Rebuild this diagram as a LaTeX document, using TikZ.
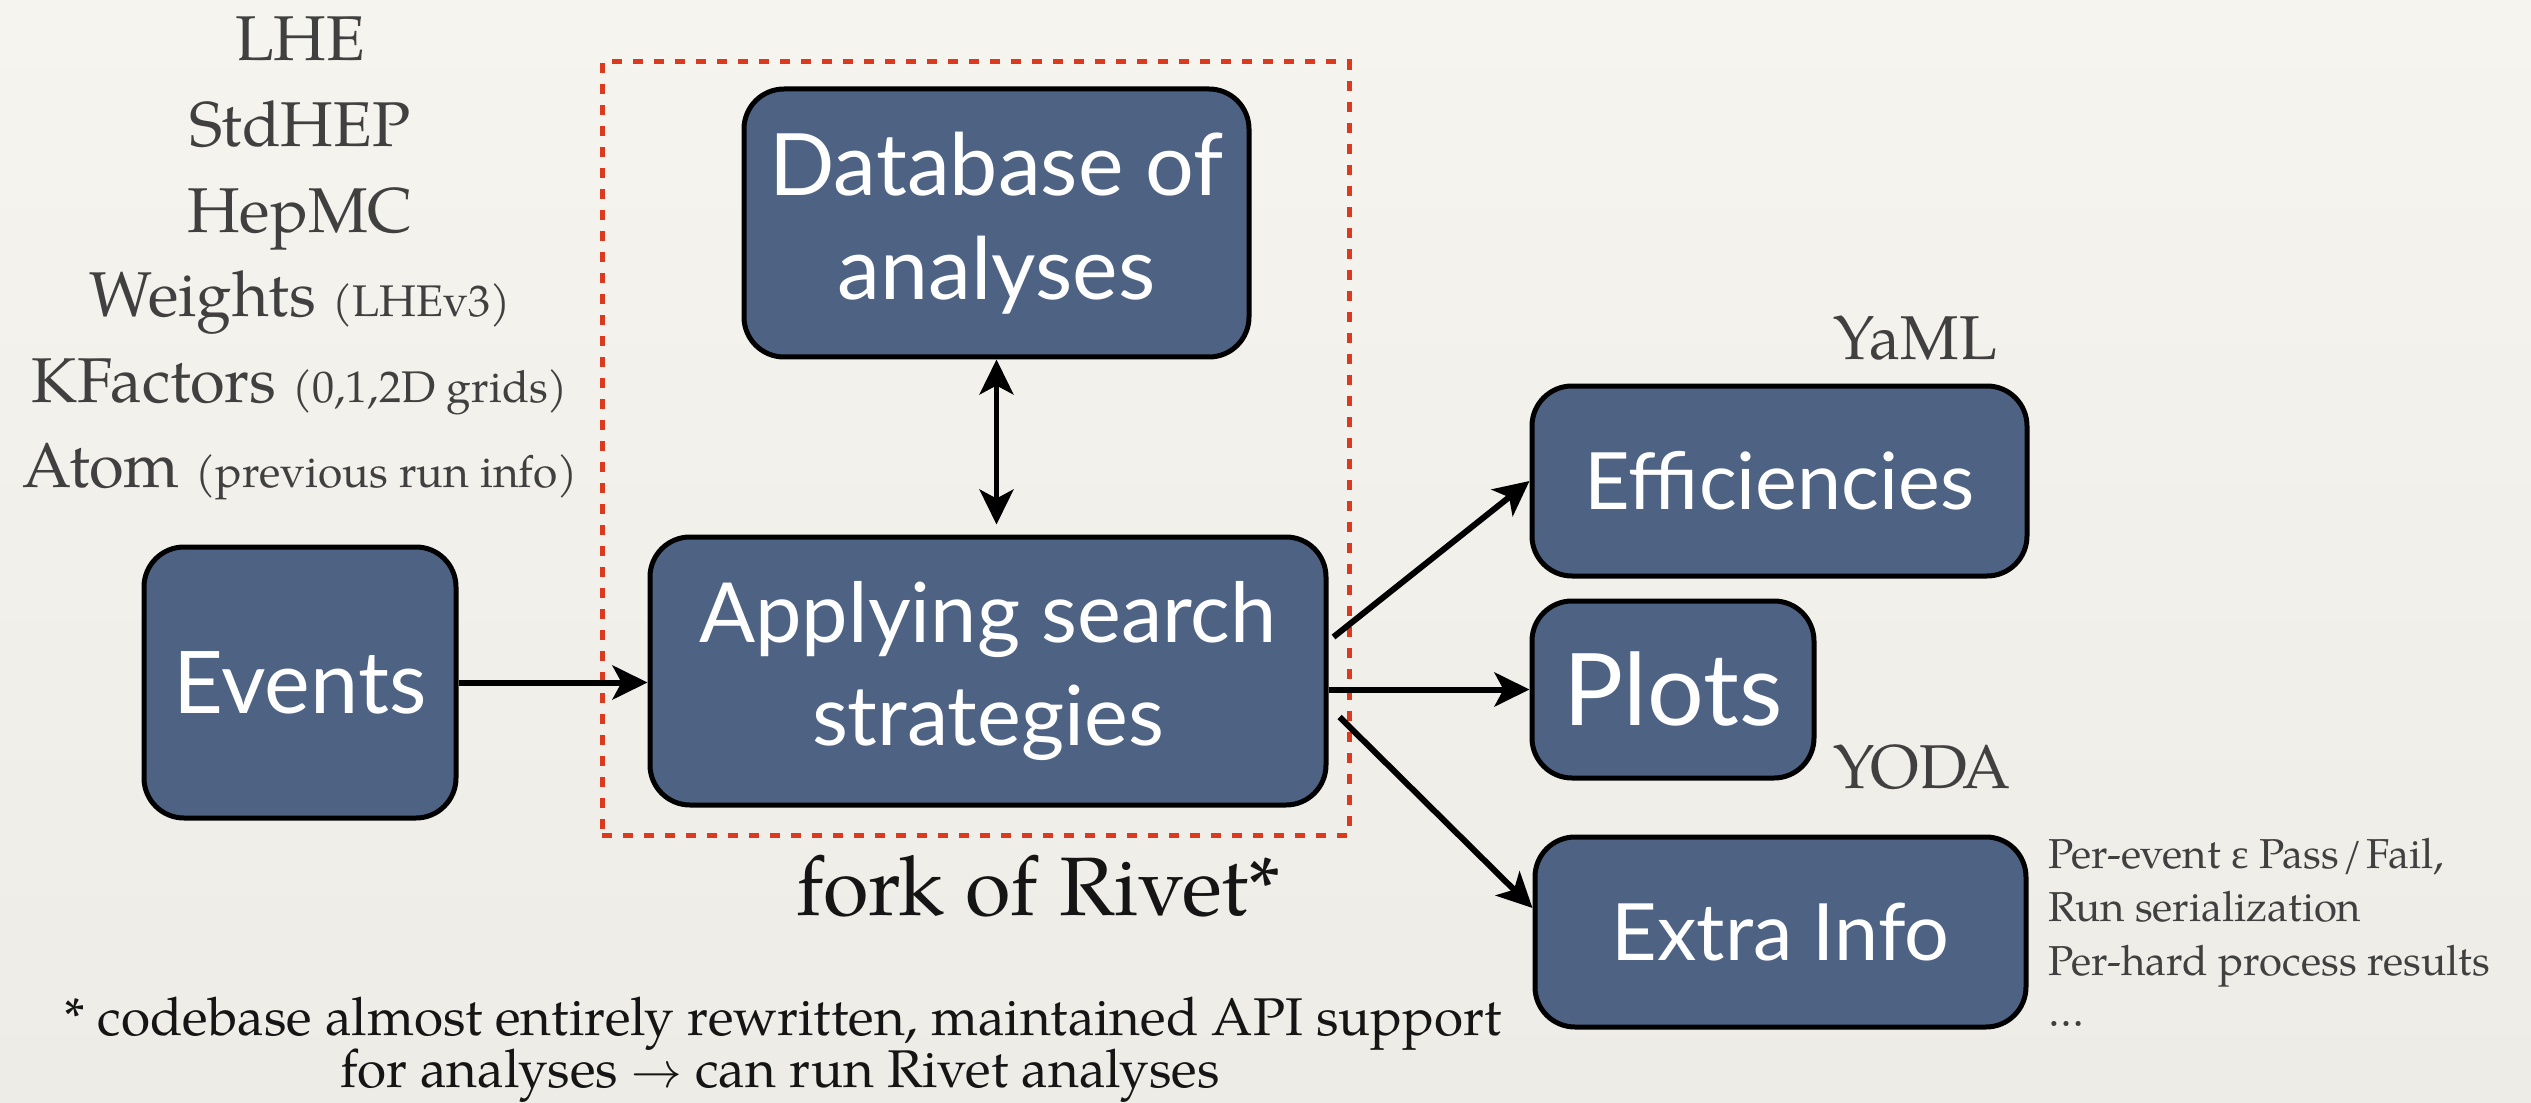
\documentclass[tikz,border=0pt]{standalone}
\usepackage{fontspec}
\setmainfont{TeX Gyre Pagella}
\newfontfamily\boxfont{Lato}
\newfontfamily\grkfont{Liberation Serif}
\usetikzlibrary{arrows.meta,calc}

\definecolor{boxblue}{HTML}{4E6383}
\definecolor{dashred}{HTML}{DC3A1E}
\definecolor{inkgrey}{HTML}{404040}
\definecolor{inkdark}{HTML}{151515}
\definecolor{bgtop}{HTML}{F6F4EF}
\definecolor{bgmid}{HTML}{E4E1DC}
\definecolor{bgbot}{HTML}{EEECE7}

\tikzset{
  box/.style={draw=black, line width=0.05cm, fill=boxblue, rounded corners=0.4cm,
              inner sep=0pt, text=white, align=center},
  arr/.style={line width=0.06cm, -{Stealth[length=3.5mm,width=3.4mm,inset=0.9mm]}},
  dbl/.style={line width=0.05cm,
              {Stealth[length=3.5mm,width=3.4mm,inset=0.9mm]}-{Stealth[length=3.5mm,width=3.4mm,inset=0.9mm]}},
  redbox/.style={draw=dashred, line width=0.05cm, dash pattern=on 0.1cm off 0.11cm,
                 inner sep=0pt},
  fmt/.style={text=inkgrey, inner sep=0pt, anchor=base},
  listfont/.style={font=\fontsize{18pt}{22pt}\selectfont},
  detail/.style={fmt, anchor=base west, font=\fontsize{11.9pt}{14pt}\selectfont},
}
\newcommand\smallpar{\fontsize{12.6pt}{15pt}\selectfont}

\begin{document}
\begin{tikzpicture}
  % page background
  \shade[top color=bgtop, middle color=bgmid, bottom color=bgbot]
    (0,0) rectangle (25.31,-11.03);
  \useasboundingbox (0,0) rectangle (25.31,-11.03);

  % input formats
  \node[fmt, listfont] (lhe)    at (3.00,-0.61) {LHE};
  \node[fmt, listfont] (stdhep) at (3.00,-1.47) {StdHEP};
  \node[fmt, listfont] (hepmc)  at (3.00,-2.32) {HepMC};
  \node[fmt, listfont] (wts)    at (3.00,-3.17) {Weights {\smallpar(LHEv3)}};
  \node[fmt, listfont] (kfac)   at (3.00,-4.02) {KFactors {\smallpar(0,1,2D grids)}};
  \node[fmt, listfont] (atom)   at (3.00,-4.87) {Atom {\smallpar(previous run info)}};

  % dashed frame around the Rivet-derived part
  \node[redbox, minimum width=7.47cm, minimum height=7.73cm] (fork) at (9.755,-4.485) {};
  \node[anchor=base, inner sep=0pt, text=inkdark,
        font=\fontsize{23.6pt}{28pt}\selectfont] (forklabel) at (10.39,-9.15) {fork of Rivet*};

  % main blocks
  \node[box, minimum width=3.12cm, minimum height=2.71cm,
        font=\boxfont\fontsize{24.6pt}{30pt}\selectfont] (ev) at (3.00,-6.825) {Events};
  \node[box, minimum width=5.05cm, minimum height=2.68cm,
        font=\boxfont\fontsize{24.5pt}{29.5pt}\selectfont] (db) at (9.965,-2.23) {Database of\\analyses};
  \node[box, minimum width=6.76cm, minimum height=2.68cm,
        font=\boxfont\fontsize{23.6pt}{29.5pt}\selectfont] (app) at (9.88,-6.71) {Applying search\\strategies};
  \node[box, minimum width=4.95cm, minimum height=1.90cm,
        font=\boxfont\fontsize{22.5pt}{27pt}\selectfont] (eff) at (17.795,-4.81) {Efficiencies};
  \node[box, minimum width=2.82cm, minimum height=1.77cm,
        font=\boxfont\fontsize{28.5pt}{34pt}\selectfont] (plots) at (16.73,-6.895) {Plots};
  \node[box, minimum width=4.91cm, minimum height=1.90cm,
        font=\boxfont\fontsize{22.5pt}{27pt}\selectfont] (extra) at (17.805,-9.32) {Extra Info};

  % output format labels
  \node[fmt, anchor=base west, font=\fontsize{17.6pt}{21pt}\selectfont] (yaml) at (18.33,-3.59) {YaML};
  \node[fmt, anchor=base west, font=\fontsize{17.6pt}{21pt}\selectfont] (yoda) at (18.33,-7.88) {YODA};

  % extra info details
  \node[detail] (x1) at (20.48,-8.68) {Per-event {\grkfont ε} Pass\kern1pt/\kern1ptFail,};
  \node[detail] (x2) at (20.48,-9.21) {Run serialization};
  \node[detail] (x3) at (20.48,-9.75) {Per-hard process results};
  \node[detail] (x4) at (20.48,-10.26) {\dots};

  % footnote
  \node[anchor=base, inner sep=0pt, text=inkdark, font=\fontsize{15.1pt}{18pt}\selectfont]
    (note1) at (7.83,-10.35) {* codebase almost entirely rewritten, maintained API support};
  \node[anchor=base, inner sep=0pt, text=inkdark, font=\fontsize{15.1pt}{18pt}\selectfont]
    (note2) at (7.80,-10.87) {for analyses $\rightarrow$ can run Rivet analyses};

  % connectors
  \draw[arr] (ev.east) -- (ev.east -| app.west);
  \draw[dbl] (db.south) -- ([yshift=1mm]db.south |- app.north);
  \draw[arr] ([shift={(0.05,0.34)}]app.east) -- (eff.west);
  \draw[arr] (app.east |- plots.west) -- (plots.west);
  \draw[arr] ([shift={(0.11,-0.46)}]app.east) -- ([yshift=0.24cm]extra.west);
\end{tikzpicture}
\end{document}
